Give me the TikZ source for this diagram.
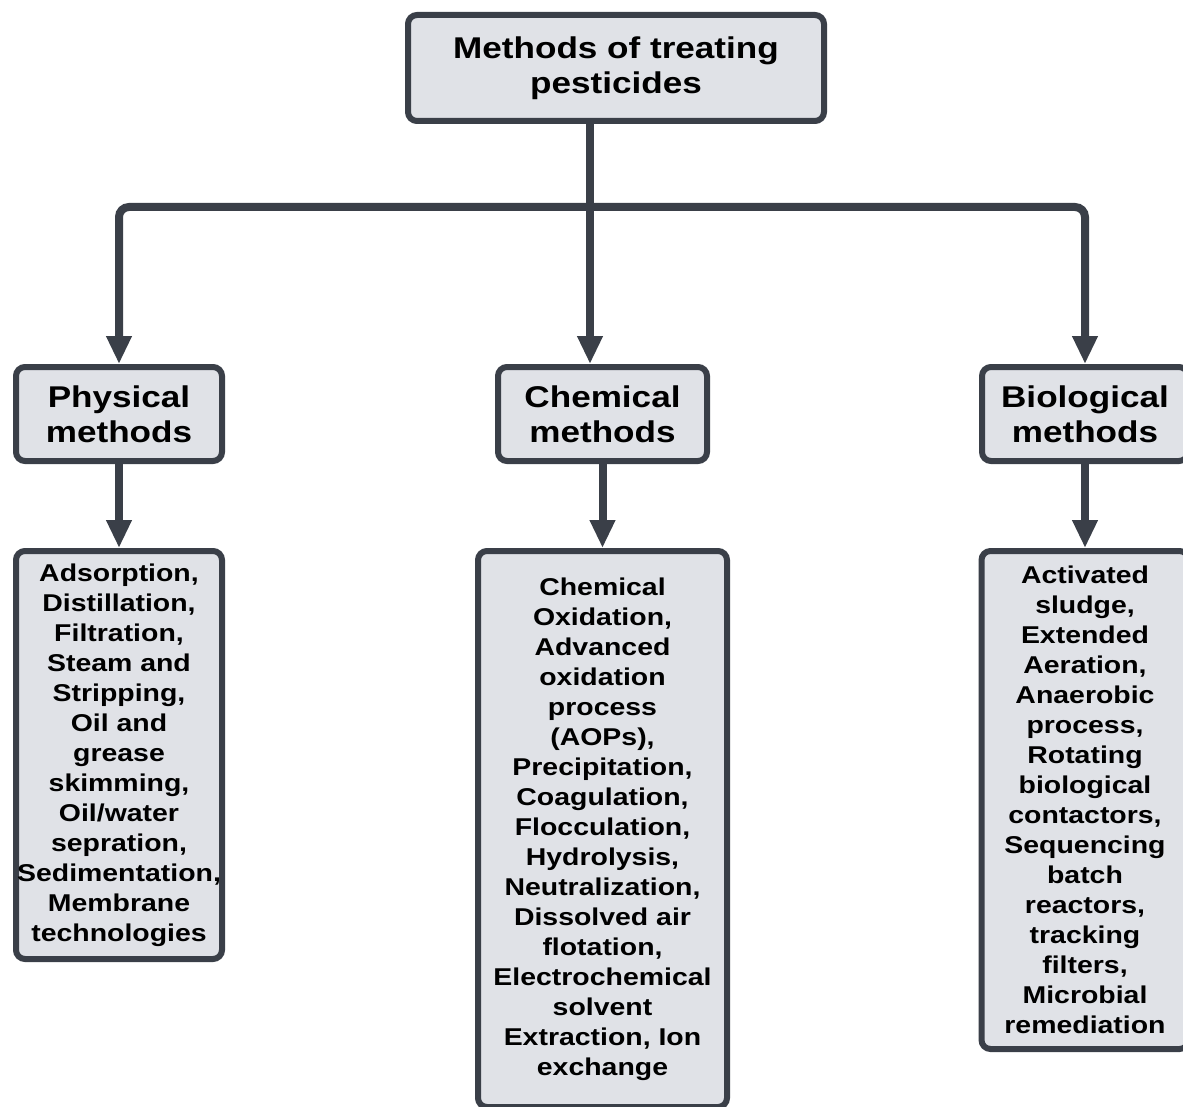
\documentclass[tikz,border=0pt]{standalone}
\usepackage{fontspec}
\setmainfont{Liberation Sans}[FakeStretch=1.17]
\usetikzlibrary{arrows.meta}
\definecolor{edgegray}{RGB}{58,63,72}
\definecolor{boxgray}{RGB}{224,226,231}
\begin{document}
\begin{tikzpicture}[x=1pt,y=-1pt,
    box/.style={draw=edgegray,fill=boxgray,line width=6pt,rounded corners=9pt,
      align=center,inner sep=0pt,font=\bfseries\fontsize{30}{35}\selectfont},
    listbox/.style={box,font=\bfseries\fontsize{24.3}{30}\selectfont},
    link/.style={draw=edgegray,line width=8pt,rounded corners=10pt,
      -{Triangle[width=24pt,length=28pt]}}]
    \useasboundingbox (0,0) rectangle (1183,1107);
    \clip (0,0) rectangle (1183,1107);
    \node[box,minimum width=416pt,minimum height=106pt] (top) at (616,68)
        {Methods of treating\\pesticides};
    \node[box,minimum width=206pt,minimum height=94pt] (phys) at (119,414)
        {Physical\\methods};
    \node[box,minimum width=209pt,minimum height=94pt] (chem) at (602.5,414)
        {Chemical\\methods};
    \node[box,minimum width=206pt,minimum height=94pt] (bio) at (1085,414)
        {Biological\\methods};
    \node[listbox,minimum width=206pt,minimum height=408pt] (phys-list) at (119,755)
        {Adsorption,\\Distillation,\\Filtration,\\Steam and\\Stripping,\\Oil and\\grease\\skimming,\\Oil/water\\sepration,\\Sedimentation,\\Membrane\\technologies};
    \node[listbox,minimum width=249pt,minimum height=556pt] (chem-list) at (602.5,829)
        {Chemical\\Oxidation,\\Advanced\\oxidation\\process\\(AOPs),\\Precipitation,\\Coagulation,\\Flocculation,\\Hydrolysis,\\Neutralization,\\Dissolved air\\flotation,\\Electrochemical\\solvent\\Extraction, Ion\\exchange};
    \node[listbox,minimum width=207pt,minimum height=498pt] (bio-list) at (1085,800)
        {Activated\\sludge,\\Extended\\Aeration,\\Anaerobic\\process,\\Rotating\\biological\\contactors,\\Sequencing\\batch\\reactors,\\tracking\\filters,\\Microbial\\remediation};
    \coordinate (trunk) at (590,124);
    \coordinate (fork) at (590,207);
    \draw[link] (trunk) -- (trunk |- chem.north);
    \draw[link] (fork) -| (phys.north);
    \draw[link] (fork) -| (bio.north);
    \foreach \n in {phys,chem,bio}
        \draw[link] (\n.south) -- (\n-list.north);
\end{tikzpicture}
\end{document}
